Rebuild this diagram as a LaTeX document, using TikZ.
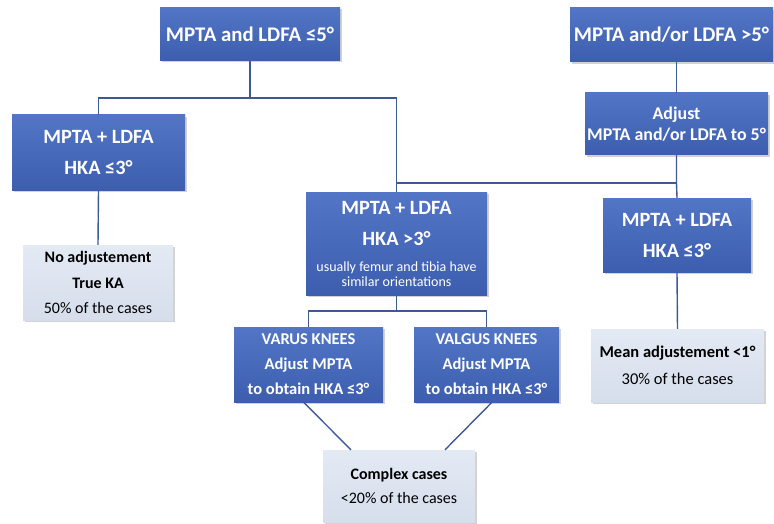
\documentclass[tikz,border=0pt]{standalone}
\usepackage{fontspec}
\setmainfont{Carlito}
\usetikzlibrary{shadows}

\definecolor{boxtop}{HTML}{5275C6}
\definecolor{boxbot}{HTML}{3D5EAF}
\definecolor{paletop}{HTML}{E4EAF4}
\definecolor{palebot}{HTML}{D6DEEC}
\definecolor{linkblue}{HTML}{3F5A93}
\newcommand\notefont{\mdseries\fontsize{14}{15}\selectfont}

\begin{document}
\begin{tikzpicture}[x=1pt,y=-1pt,
  darkbox/.style={top color=boxtop, bottom color=boxbot, text=white, align=center,
    inner sep=0pt, font=\bfseries\fontsize{20.3}{31}\selectfont,
    drop shadow={shadow xshift=1.5pt, shadow yshift=-2pt, opacity=0.35}},
  palebox/.style={top color=paletop, bottom color=palebot, text=black, align=center,
    inner sep=0pt, font=\fontsize{16}{25.5}\selectfont,
    drop shadow={shadow xshift=1.5pt, shadow yshift=-2pt, opacity=0.35}},
  link/.style={draw=linkblue, line width=1.4pt}]
\useasboundingbox [fill=white] (0,0) rectangle (774,524);
% top row
\node [darkbox, minimum width=180pt, minimum height=53pt, font=\bfseries\fontsize{20.8}{31}\selectfont] (topc) at (250,34) {MPTA and LDFA ≤5°};
\node [darkbox, minimum width=203pt, minimum height=54pt, font=\bfseries\fontsize{20.8}{31}\selectfont] (topr) at (671.5,35) {MPTA and/or LDFA >5°};
\node [darkbox, minimum width=183pt, minimum height=62pt, font=\bfseries\fontsize{17.9}{21.5}\selectfont]
  (adj) at (676.5,124) {Adjust\\MPTA and/or LDFA to 5°};
% second row
\node [darkbox, minimum width=173pt, minimum height=75pt] (left) at (98.5,152.5) {MPTA + LDFA\\HKA ≤3°};
\node [darkbox, minimum width=181pt, minimum height=103pt] (mid) at (396.5,243.5)
  {MPTA + LDFA\\HKA >3°\\[-5pt]{\notefont usually femur and tibia have}\\[-16pt]{\notefont similar orientations}};
\node [darkbox, minimum width=148pt, minimum height=74pt] (rightb) at (677,235) {MPTA + LDFA\\HKA ≤3°};
% results
\node [palebox, minimum width=150pt, minimum height=75pt] (nocorr) at (98,282.5)
  {\textbf{No adjustement}\\\textbf{True KA}\\50\% of the cases};
\node [palebox, minimum width=173pt, minimum height=73pt, font=\fontsize{16.5}{27}\selectfont] (mean) at (677.5,365.5)
  {\textbf{Mean adjustement <1°}\\30\% of the cases};
\node [darkbox, minimum width=149pt, minimum height=75pt, font=\bfseries\fontsize{16.5}{25}\selectfont] (varus) at (308.5,364.5)
  {VARUS KNEES\\Adjust MPTA\\to obtain HKA ≤3°};
\node [darkbox, minimum width=145pt, minimum height=75pt, font=\bfseries\fontsize{16.5}{25}\selectfont] (valgus) at (486.5,364.5)
  {VALGUS KNEES\\Adjust MPTA\\to obtain HKA ≤3°};
\node [palebox, minimum width=152pt, minimum height=72pt, font=\fontsize{16}{24}\selectfont] (complex) at (399,486)
  {\textbf{Complex cases}\\<20\% of the cases};
% junctions
\coordinate (fork1) at (250,98);
\coordinate (fork2) at (676.5,183);
\coordinate (fork3) at (396.5,311);
% connectors
\draw [link] (topc.south) -- (fork1) -| (left.north);
\draw [link] (fork1) -| (mid.north);
\draw [link] (topr.south -| adj.north) -- (adj.north);
\draw [link] (adj.south) -- (fork2) -- (rightb.north);
\draw [link] (fork2) -| (mid.north);
\draw [link] (left.south) -- (nocorr.north);
\draw [link] (rightb.south) -- (mean.north);
\draw [link] (mid.south) -- (fork3);
\draw [link] (varus.north) |- (fork3) -| (valgus.north);
\draw [link] ([xshift=-5pt]varus.south) -- ([xshift=-48pt]complex.north);
\draw [link] ([xshift=5.5pt]valgus.south) -- ([xshift=46pt]complex.north);
\end{tikzpicture}
\end{document}
